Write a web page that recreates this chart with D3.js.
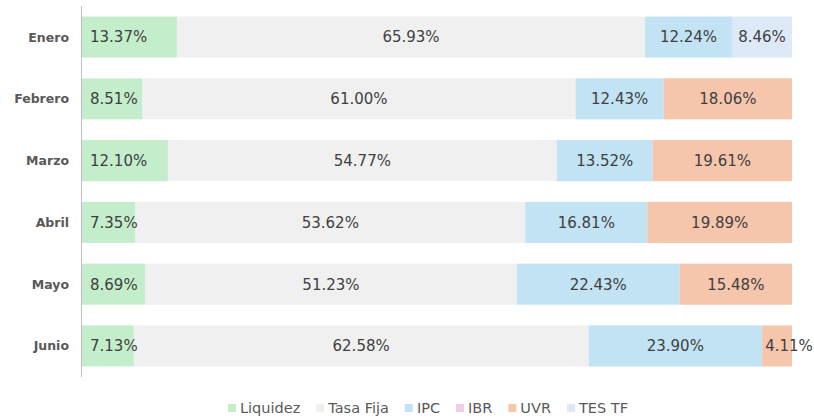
<!DOCTYPE html>
<html><head><meta charset="utf-8">
<script src="https://cdn.jsdelivr.net/npm/d3@7"></script>
<style>body{margin:0;background:#fff}svg{display:block}</style>
</head><body>
<svg id="c" width="814" height="420"></svg>
<script>
const categories = ["Enero","Febrero","Marzo","Abril","Mayo","Junio"];
const seriesNames = ["Liquidez","Tasa Fija","IPC","IBR","UVR","TES TF"];
const liquidez = [13.37, 8.51, 12.10, 7.35, 8.69, 7.13];
const tasaFija = [65.93, 61.00, 54.77, 53.62, 51.23, 62.58];
const ipc      = [12.24, 12.43, 13.52, 16.81, 22.43, 23.90];
const ibr      = [0, 0, 0, 0, 0, 0];
const uvr      = [0, 18.06, 19.61, 19.89, 15.48, 4.11];
const tesTF    = [8.46, 0, 0, 0, 0, 0];
const colors = ["#c4eecb","#f0f0f0","#c2e3f3","#f2cdea","#f5c6ab","#dde9f6"];

const seriesVals = [liquidez, tasaFija, ipc, ibr, uvr, tesTF];
const rows = categories.map((c,i)=>{const o={cat:c};seriesNames.forEach((s,j)=>o[s]=seriesVals[j][i]);return o;});
const stack = d3.stack().keys(seriesNames).offset(d3.stackOffsetExpand)(rows);

const svg = d3.select("#c");
const x = d3.scaleLinear().domain([0,1]).range([82,792]);
const y = d3.scaleBand().domain(categories).range([6,377]).paddingInner(0.335).paddingOuter(0.17);

svg.append("line").attr("x1",81.5).attr("x2",81.5).attr("y1",6).attr("y2",377).attr("stroke","#bfbfbf").attr("stroke-width",1);

stack.forEach((layer,j)=>{
  const g = svg.append("g");
  layer.forEach((d,i)=>{
    const v = seriesVals[j][i];
    if(!v) return;
    const x0 = x(d[0]), x1 = x(d[1]);
    g.append("rect").attr("x",x0).attr("y",y(categories[i])).attr("width",x1-x0).attr("height",y.bandwidth()).attr("fill",colors[j]);
  });
});
stack.forEach((layer,j)=>{
  layer.forEach((d,i)=>{
    const v = seriesVals[j][i];
    if(!v) return;
    const x0 = x(d[0]), x1 = x(d[1]);
    const t = svg.append("text").attr("y",y(categories[i])+y.bandwidth()/2).attr("dy","0.36em")
      .attr("font-family","DejaVu Sans, Verdana, sans-serif").attr("font-size",15).attr("fill","#404040")
      .text(v.toFixed(2)+"%");
    const w = t.node().getComputedTextLength();
    if(j===0){ t.attr("x",x0+8).attr("text-anchor","start"); }
    else if(w > x1-x0){ t.attr("x",x0+3).attr("text-anchor","start"); }
    else { t.attr("x",(x0+x1)/2).attr("text-anchor","middle"); }
  });
});

svg.append("g").selectAll("text").data(categories).join("text")
  .attr("x",69).attr("y",d=>y(d)+y.bandwidth()/2).attr("dy","0.36em").attr("text-anchor","end")
  .attr("font-family","DejaVu Sans, Verdana, sans-serif").attr("font-size",12.5).attr("font-weight","bold").attr("fill","#595959")
  .text(d=>d);

const lg = svg.append("g");
let lx = 0;
seriesNames.forEach((s,j)=>{
  const it = lg.append("g").attr("transform",`translate(${lx},0)`);
  it.append("rect").attr("x",0).attr("y",-4).attr("width",8).attr("height",8).attr("fill",colors[j]);
  const t = it.append("text").attr("x",12).attr("y",0).attr("dy","0.36em")
    .attr("font-family","DejaVu Sans, Verdana, sans-serif").attr("font-size",14.5).attr("fill","#595959").text(s);
  lx += 12 + t.node().getComputedTextLength() + 16;
});
const total = lx - 16;
lg.attr("transform",`translate(${428 - total/2},408)`);
</script>
</body></html>
